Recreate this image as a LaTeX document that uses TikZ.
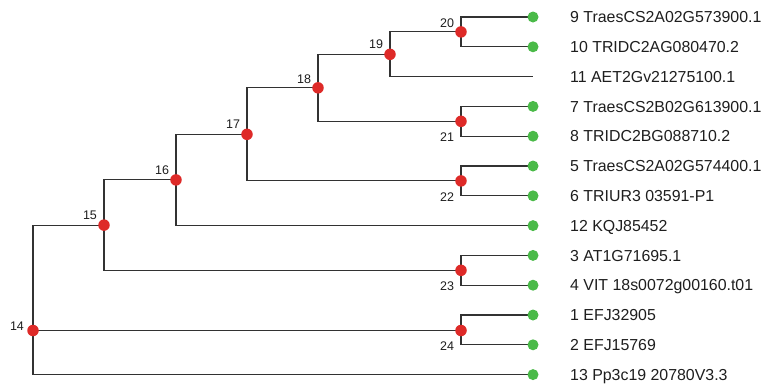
\documentclass[tikz,border=0pt]{standalone}
\usepackage{fontspec}
\setmainfont{Liberation Sans}
\usetikzlibrary{calc}
\pgfdeclarelayer{bg}
\pgfsetlayers{bg,main}
\definecolor{edgegray}{RGB}{50,50,50}
\definecolor{nodered}{RGB}{222,42,40}
\definecolor{leafgreen}{RGB}{74,186,72}
\definecolor{txtgray}{RGB}{30,30,30}
\tikzset{
  inner/.style={circle,fill=nodered,inner sep=0pt,minimum size=11.5pt},
  leaf/.style={circle,fill=leafgreen,inner sep=0pt,minimum size=11pt},
  tip/.style={inner sep=0pt,minimum size=0pt},
  edge/.style={draw=edgegray,line width=1.1pt},
  leaftext/.style={inner sep=0pt,anchor=base west,text=txtgray,font=\fontsize{15.9}{18}\selectfont},
  nodelab/.style={inner sep=0pt,anchor=center,text=txtgray,font=\fontsize{12.5}{14}\selectfont}
}
\begin{document}
\begin{tikzpicture}[x=1pt,y=-1pt]
\useasboundingbox (0,0) rectangle (765,384);

% leaf tips
\node[leaf] (l9)  at (533,17.0)  {};
\node[leaf] (l10) at (533,46.8)  {};
\node[tip]  (l11) at (533,76.6)  {};
\node[leaf] (l7)  at (533,106.4) {};
\node[leaf] (l8)  at (533,136.2) {};
\node[leaf] (l5)  at (533,166.0) {};
\node[leaf] (l6)  at (533,195.8) {};
\node[leaf] (l12) at (533,225.6) {};
\node[leaf] (l3)  at (533,255.4) {};
\node[leaf] (l4)  at (533,285.2) {};
\node[leaf] (l1)  at (533,315.0) {};
\node[leaf] (l2)  at (533,344.8) {};
\node[leaf] (l13) at (533,374.6) {};

% leaf names
\node[leaftext] (t9)  at (570,22.7)  {9 TraesCS2A02G573900.1};
\node[leaftext] (t10) at (570,52.5)  {10 TRIDC2AG080470.2};
\node[leaftext] (t11) at (570,82.3)  {11 AET2Gv21275100.1};
\node[leaftext] (t7)  at (570,112.1) {7 TraesCS2B02G613900.1};
\node[leaftext] (t8)  at (570,141.9) {8 TRIDC2BG088710.2};
\node[leaftext] (t5)  at (570,171.7) {5 TraesCS2A02G574400.1};
\node[leaftext] (t6)  at (570,201.5) {6 TRIUR3 03591-P1};
\node[leaftext] (t12) at (570,231.3) {12 KQJ85452};
\node[leaftext] (t3)  at (570,261.1) {3 AT1G71695.1};
\node[leaftext] (t4)  at (570,290.9) {4 VIT 18s0072g00160.t01};
\node[leaftext] (t1)  at (570,320.7) {1 EFJ32905};
\node[leaftext] (t2)  at (570,350.5) {2 EFJ15769};
\node[leaftext] (t13) at (570,380.3) {13 Pp3c19 20780V3.3};

% internal nodes
\node[inner] (n20) at (461,31.9)  {};
\node[inner] (n19) at (390,54.3)  {};
\node[inner] (n21) at (461,121.3) {};
\node[inner] (n18) at (318,87.8)  {};
\node[inner] (n22) at (461,180.9) {};
\node[inner] (n17) at (247,134.3) {};
\node[inner] (n16) at (176,179.9) {};
\node[inner] (n23) at (461,270.3) {};
\node[inner] (n15) at (104,225.1) {};
\node[inner] (n24) at (461,330.5) {};
\node[inner] (n14) at (33,330.5)  {};

% internal node numbers
\node[nodelab] (c20) at ($(n20)+(-14,-9)$)  {20};
\node[nodelab] (c19) at ($(n19)+(-14,-10)$) {19};
\node[nodelab] (c18) at ($(n18)+(-14,-9)$)  {18};
\node[nodelab] (c17) at ($(n17)+(-14,-10)$) {17};
\node[nodelab] (c16) at ($(n16)+(-14,-10)$) {16};
\node[nodelab] (c15) at ($(n15)+(-14,-10)$) {15};
\node[nodelab] (c14) at ($(n14)+(-16,-4)$)  {14};
\node[nodelab] (c21) at ($(l8)+(-86,1)$)   {21};
\node[nodelab] (c22) at ($(l6)+(-86,1)$)   {22};
\node[nodelab] (c23) at ($(l4)+(-86,1)$)   {23};
\node[nodelab] (c24) at ($(l2)+(-86,1)$)   {24};

% branches
\begin{pgfonlayer}{bg}
\draw[edge] (n20.center) |- (l9.center);
\draw[edge] (n20.center) |- (l10.center);
\draw[edge] (n19.center) |- (n20.center);
\draw[edge] (n19.center) |- (l11.center);
\draw[edge] (n21.center) |- (l7.center);
\draw[edge] (n21.center) |- (l8.center);
\draw[edge] (n18.center) |- (n19.center);
\draw[edge] (n18.center) |- (n21.center);
\draw[edge] (n22.center) |- (l5.center);
\draw[edge] (n22.center) |- (l6.center);
\draw[edge] (n17.center) |- (n18.center);
\draw[edge] (n17.center) |- (n22.center);
\draw[edge] (n16.center) |- (n17.center);
\draw[edge] (n16.center) |- (l12.center);
\draw[edge] (n23.center) |- (l3.center);
\draw[edge] (n23.center) |- (l4.center);
\draw[edge] (n15.center) |- (n16.center);
\draw[edge] (n15.center) |- (n23.center);
\draw[edge] (n24.center) |- (l1.center);
\draw[edge] (n24.center) |- (l2.center);
\draw[edge] (n14.center) |- (n15.center);
\draw[edge] (n14.center) -- (n24.center);
\draw[edge] (n14.center) |- (l13.center);
\end{pgfonlayer}
\end{tikzpicture}
\end{document}
